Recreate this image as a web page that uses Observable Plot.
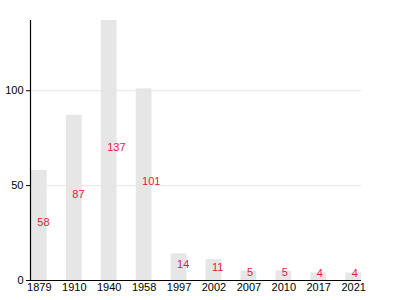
<!DOCTYPE html>
<html>
<head>
<meta charset="utf-8">
<script src="https://cdn.jsdelivr.net/npm/d3@7"></script>
<script src="https://cdn.jsdelivr.net/npm/@observablehq/plot@0.6"></script>
<style>
  body { margin: 0; background: #fff; }
  #chart svg { font-family: "Liberation Sans", Arial, sans-serif; }
</style>
</head>
<body>
<div id="chart"></div>
<script>
const years = ["1879", "1910", "1940", "1958", "1997", "2002", "2007", "2010", "2017", "2021"];
const counts = [58, 87, 137, 101, 14, 11, 5, 5, 4, 4];
const yTicks = [0, 50, 100];

const data = years.map((y, i) => ({year: y, count: counts[i]}));

// vertical y-axis line drawn from the y scale
function yAxisLine(index, scales, values, dimensions) {
  const [y0, y1] = scales.scales.y.range;
  const g = d3.create("svg:g");
  g.append("line")
    .attr("x1", dimensions.marginLeft - 0.5)
    .attr("x2", dimensions.marginLeft - 0.5)
    .attr("y1", y0)
    .attr("y2", y1)
    .attr("stroke", "#000")
    .attr("stroke-width", 1.2);
  return g.node();
}

const chart = Plot.plot({
  width: 400,
  height: 300,
  marginLeft: 31,
  marginRight: 39,
  marginTop: 20,
  marginBottom: 20,
  style: {fontSize: "11px", fontFamily: "'Liberation Sans', Arial, sans-serif", background: "#fff"},
  x: {domain: years, paddingInner: 0.55, paddingOuter: 0, align: 0.5, round: false},
  y: {domain: [0, 137]},
  marks: [
    Plot.gridY(yTicks.filter(d => d > 0), {stroke: "#e6e6e6", strokeOpacity: 1}),
    Plot.barY(data, {x: "year", y: "count", fill: "#e6e6e6"}),
    Plot.text(data, {
      x: "year",
      y: d => d.count / 2,
      text: d => String(d.count),
      fill: "#e3193b",
      textAnchor: "start",
      dx: -2,
      dy: -3,
      fontSize: 11
    }),
    Plot.axisY({ticks: yTicks, tickSize: 5, tickPadding: 3, label: null, stroke: "#000"}),
    Plot.axisX({tickSize: 0, tickPadding: 3, label: null}),
    Plot.ruleY([0], {stroke: "#000", strokeWidth: 1.2}),
    yAxisLine
  ]
});
document.getElementById("chart").appendChild(chart);
</script>
</body>
</html>
